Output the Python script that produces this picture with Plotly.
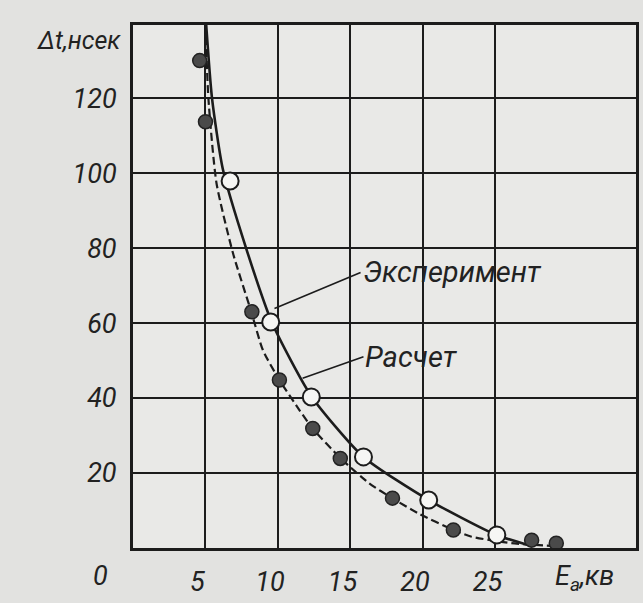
import plotly.graph_objects as go

# ---- data ----
# open circles (Эксперимент)
exp_E = [6.7, 9.5, 12.3, 15.9, 20.4, 25.1]
exp_dt = [97.9, 60.3, 40.3, 24.3, 12.8, 3.5]
# filled dots
dot_E = [4.6, 5.0, 8.2, 10.1, 12.4, 14.3, 17.9, 22.1, 27.5, 29.2]
dot_dt = [130.0, 113.7, 63.0, 44.8, 31.9, 23.9, 13.3, 4.8, 2.1, 1.3]
# solid curve (Расчет)
solid_E = [5.05, 5.45, 6.2, 7.8, 9.6, 12.3, 15.9, 20.4, 25.0, 27.5]
solid_dt = [139.5, 120.0, 101.0, 80.0, 60.0, 40.5, 24.3, 12.8, 3.6, 0.5]
# dashed curve
dash_E = [5.0, 5.2, 5.76, 6.9, 8.16, 8.96, 10.1, 11.48, 12.39, 14.33, 16.28,
          17.87, 19.7, 22.1, 23.36, 26.1, 29.2]
dash_dt = [139.5, 120.0, 97.3, 78.6, 63.0, 52.8, 44.8, 36.8, 31.9, 23.9, 17.3,
           13.3, 9.2, 4.8, 3.0, 1.3, 0.5]

x_ticks = [5, 10, 15, 20, 25]
y_ticks = [20, 40, 60, 80, 100, 120]

FONT = "Roboto, Liberation Sans, sans-serif"
INK = "#1c1c1c"

fig = go.Figure()
fig.add_trace(go.Scatter(x=dash_E, y=dash_dt, mode="lines",
                         line=dict(color=INK, width=2.2, dash="8px,4px", shape="spline", smoothing=0.6),
                         hoverinfo="skip", showlegend=False))
fig.add_trace(go.Scatter(x=solid_E, y=solid_dt, mode="lines",
                         line=dict(color=INK, width=2.6, shape="spline", smoothing=0.6),
                         hoverinfo="skip", showlegend=False))
fig.add_trace(go.Scatter(x=dot_E, y=dot_dt, mode="markers",
                         marker=dict(size=14, color="#4a4a4a", line=dict(color="#222", width=1.5)),
                         showlegend=False))
fig.add_trace(go.Scatter(x=exp_E, y=exp_dt, mode="markers",
                         marker=dict(size=17, color="#f6f6f4", line=dict(color=INK, width=2)),
                         showlegend=False))

tickfont = dict(family=FONT, size=27, color="#222", style="italic")
fig.update_xaxes(range=[0, 34.7], tickvals=x_ticks, ticktext=[str(v) for v in x_ticks],
                 showgrid=True, gridcolor=INK, gridwidth=1.6, zeroline=False,
                 showline=True, mirror=True, linecolor=INK, linewidth=3,
                 ticks="", tickfont=tickfont, ticklabelshift=-8, ticklabelstandoff=8)
fig.update_yaxes(range=[0, 139.5], tickvals=y_ticks, ticktext=[str(v) for v in y_ticks],
                 showgrid=True, gridcolor=INK, gridwidth=1.6, zeroline=False,
                 showline=True, mirror=True, linecolor=INK, linewidth=3,
                 ticks="", tickfont=tickfont, ticklabelstandoff=8)

annfont = dict(family=FONT, size=29, color="#222", style="italic")
fig.add_annotation(text="Δt,нсек", xref="paper", yref="paper", x=-0.02, y=0.971,
                   xanchor="right", yanchor="middle", showarrow=False,
                   font=dict(family=FONT, size=25, color="#222", style="italic"))
fig.add_annotation(text="0", xref="x", yref="paper", x=0, y=0, xshift=-33, yshift=-10,
                   xanchor="center", yanchor="top", showarrow=False, font=tickfont)
fig.add_annotation(text="E<sub>а</sub>,кв", xref="x", yref="paper", x=28.96, y=0, yshift=-10,
                   xanchor="left", yanchor="top", showarrow=False, font=tickfont)
fig.add_annotation(text="Эксперимент", x=9.76, y=63.9, ax=15.7, ay=73.5,
                   axref="x", ayref="y", xanchor="left", yanchor="middle",
                   showarrow=True, arrowhead=0, arrowwidth=1.6, arrowcolor=INK, font=annfont)
fig.add_annotation(text="Расчет", x=11.7, y=45.3, ax=15.9, ay=51.0,
                   axref="x", ayref="y", xanchor="left", yanchor="middle",
                   showarrow=True, arrowhead=0, arrowwidth=1.6, arrowcolor=INK, font=annfont)

fig.update_layout(width=643, height=603, margin=dict(l=133, r=4, t=25, b=55),
                  paper_bgcolor="#e2e2e0", plot_bgcolor="#e9e9e7", showlegend=False)
fig.write_html("out.html", config={"displayModeBar": False},
               post_script="document.body.style.margin='0';")
